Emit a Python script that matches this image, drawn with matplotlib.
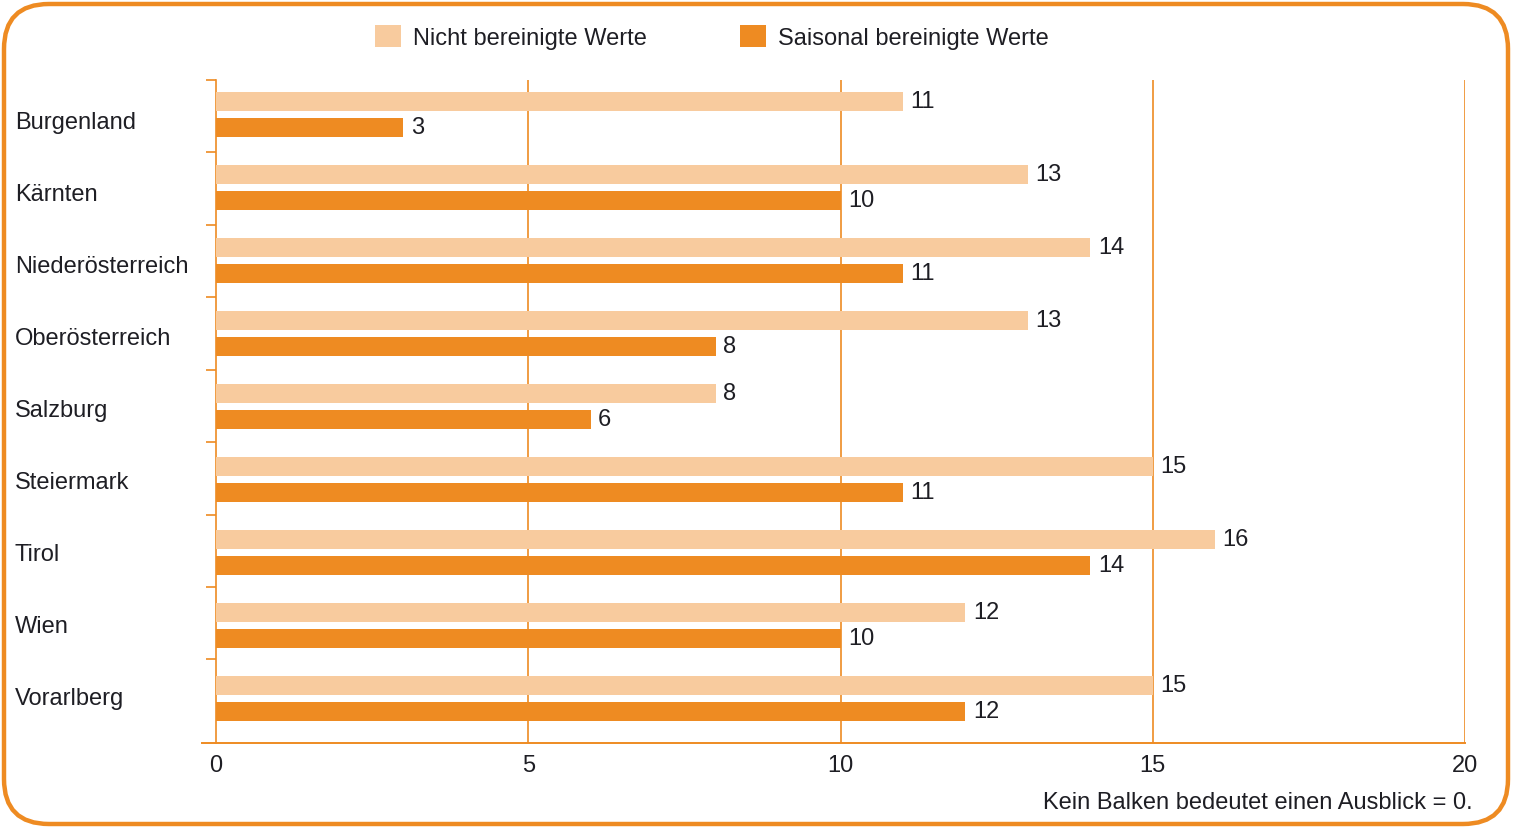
import numpy as np
import matplotlib
matplotlib.use("Agg")
import matplotlib.pyplot as plt
from matplotlib.patches import FancyBboxPatch, Patch
from matplotlib.transforms import IdentityTransform, blended_transform_factory

# data
regions = ["Burgenland", "Kärnten", "Niederösterreich", "Oberösterreich", "Salzburg",
           "Steiermark", "Tirol", "Wien", "Vorarlberg"]
nicht_bereinigt = [11, 13, 14, 13, 8, 15, 16, 12, 15]
saisonal_bereinigt = [3, 10, 11, 8, 6, 11, 14, 10, 12]
x_ticks = [0, 5, 10, 15, 20]

ORANGE = "#EE8B22"
LIGHT = "#F8CB9E"
TEXT = "#1e1e24"
FS = 17

plt.rcParams["font.family"] = ["Liberation Sans", "DejaVu Sans"]

fig = plt.figure(figsize=(15.13, 8.28), dpi=100)
W, H = 1513, 828
ax = fig.add_axes([216 / W, 1 - 744 / H, (1465 - 216) / W, (744 - 81) / H])

y = np.arange(len(regions))
h = 0.27
off = 0.178
shift = 0.02
ax.barh(y - off + shift, nicht_bereinigt, height=h, color=LIGHT, zorder=3)
ax.barh(y + off + shift, saisonal_bereinigt, height=h, color=ORANGE, zorder=3)

for yi, v in zip(y, nicht_bereinigt):
    ax.text(v + 0.12, yi - off + shift, str(v), va="center", ha="left", fontsize=FS, color=TEXT)
for yi, v in zip(y, saisonal_bereinigt):
    ax.text(v + 0.12, yi + off + shift, str(v), va="center", ha="left", fontsize=FS, color=TEXT)

ax.set_xlim(0, 20)
ax.set_ylim(8.63, -0.452)

# vertical grid lines
for xv in x_ticks[1:]:
    ax.axvline(xv, color=ORANGE, lw=1.2, zorder=1)

for s in ["top", "right", "bottom"]:
    ax.spines[s].set_visible(False)
ax.spines["left"].set_color(ORANGE)
ax.spines["left"].set_linewidth(1.2)
ax.axhline(8.63, xmin=-0.011, xmax=1, color=ORANGE, lw=1.4, clip_on=False, zorder=4)

ax.set_xticks(x_ticks)
ax.set_xticklabels([str(t) for t in x_ticks], fontsize=FS, color=TEXT)
ax.tick_params(axis="x", length=0, pad=8)
ax.set_yticks(y * 0.992 - 0.452)
ax.set_yticklabels([])
ax.tick_params(axis="y", length=7, width=1.2, color=ORANGE, direction="out")

# category labels, left aligned at the frame
lab_tr = blended_transform_factory(fig.transFigure, ax.transData)
for yi, name in zip(y, regions):
    ax.text(15 / W, yi * 0.986 + 0.12, name, transform=lab_tr,
            ha="left", va="center", fontsize=FS, color=TEXT)

# legend
handles = [Patch(facecolor=LIGHT, edgecolor="none", label="Nicht bereinigte Werte"),
           Patch(facecolor=ORANGE, edgecolor="none", label="Saisonal bereinigte Werte")]
fig.legend(handles=handles, loc="center left", bbox_to_anchor=(375 / W, 1 - 38 / H),
           ncol=2, frameon=False, fontsize=FS, borderpad=0, borderaxespad=0,
           handlelength=1.1, handleheight=1.1, handletextpad=0.5, columnspacing=3.95,
           labelcolor=TEXT)

fig.text(1473 / W, 1 - 803 / H, "Kein Balken bedeutet einen Ausblick = 0.",
         ha="right", va="center", fontsize=FS, color=TEXT)

# rounded frame
frame = FancyBboxPatch((4, 3), 1504, 820, boxstyle="round,pad=0,rounding_size=45",
                       transform=IdentityTransform(), facecolor="none",
                       edgecolor=ORANGE, lw=3.2)
fig.patches.append(frame)

fig.savefig("out.png", dpi=100)
